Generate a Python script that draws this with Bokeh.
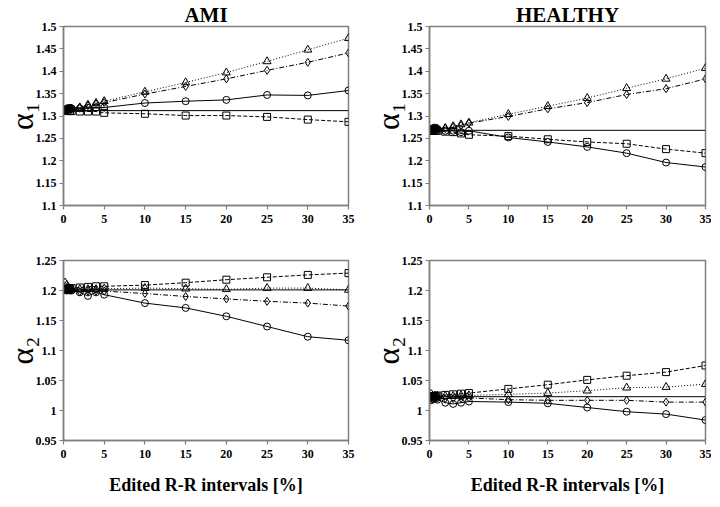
from bokeh.plotting import figure
from bokeh.layouts import column, row
from bokeh.models import Range1d, FixedTicker, CustomJSTickFormatter
from bokeh.embed import file_html
from bokeh.resources import INLINE

# ---------------- data ----------------
X = [0, 0.2, 0.4, 0.6, 0.8, 1, 2, 3, 4, 5, 10, 15, 20, 25, 30, 35]
X_TICKS = [0, 5, 10, 15, 20, 25, 30, 35]

# AMI alpha1
AMI_A1_BASE = 1.312
AMI_A1_TRI = [1.312, 1.313, 1.313, 1.314, 1.315, 1.316, 1.319, 1.325, 1.329, 1.333, 1.354, 1.375, 1.397, 1.422, 1.448, 1.474]
AMI_A1_DIA = [1.312, 1.313, 1.313, 1.314, 1.315, 1.316, 1.319, 1.323, 1.327, 1.330, 1.349, 1.366, 1.383, 1.402, 1.420, 1.441]
AMI_A1_CIR = [1.312, 1.314, 1.316, 1.318, 1.318, 1.317, 1.317, 1.318, 1.319, 1.319, 1.329, 1.333, 1.336, 1.347, 1.346, 1.357]
AMI_A1_SQ = [1.312, 1.312, 1.312, 1.311, 1.311, 1.311, 1.310, 1.310, 1.310, 1.307, 1.305, 1.301, 1.301, 1.298, 1.292, 1.287]

# HEALTHY alpha1
HEA_A1_BASE = 1.268
HEA_A1_TRI = [1.268, 1.269, 1.269, 1.270, 1.270, 1.271, 1.273, 1.277, 1.281, 1.285, 1.304, 1.322, 1.340, 1.362, 1.383, 1.407]
HEA_A1_DIA = [1.268, 1.268, 1.269, 1.269, 1.270, 1.270, 1.272, 1.275, 1.279, 1.284, 1.299, 1.316, 1.330, 1.348, 1.361, 1.383]
HEA_A1_CIR = [1.268, 1.270, 1.272, 1.274, 1.273, 1.271, 1.267, 1.267, 1.264, 1.267, 1.252, 1.242, 1.231, 1.217, 1.196, 1.186]
HEA_A1_SQ = [1.268, 1.268, 1.267, 1.267, 1.267, 1.267, 1.265, 1.264, 1.261, 1.258, 1.255, 1.248, 1.242, 1.238, 1.226, 1.217]

# AMI alpha2
AMI_A2_BASE = 1.201
AMI_A2_SQ = [1.201, 1.202, 1.202, 1.203, 1.203, 1.204, 1.205, 1.206, 1.207, 1.207, 1.209, 1.213, 1.218, 1.222, 1.226, 1.229]
AMI_A2_TRI = [1.201, 1.202, 1.203, 1.203, 1.202, 1.202, 1.202, 1.202, 1.202, 1.203, 1.204, 1.203, 1.202, 1.204, 1.204, 1.201]
AMI_A2_DIA = [1.201, 1.214, 1.210, 1.206, 1.203, 1.201, 1.198, 1.199, 1.199, 1.199, 1.195, 1.190, 1.186, 1.182, 1.179, 1.174]
AMI_A2_CIR = [1.201, 1.201, 1.200, 1.201, 1.200, 1.200, 1.197, 1.191, 1.197, 1.193, 1.179, 1.171, 1.157, 1.140, 1.123, 1.117]

# HEALTHY alpha2
HEA_A2_BASE = 1.023
HEA_A2_SQ = [1.023, 1.023, 1.024, 1.024, 1.024, 1.025, 1.026, 1.027, 1.028, 1.029, 1.036, 1.043, 1.051, 1.058, 1.064, 1.075]
HEA_A2_TRI = [1.023, 1.023, 1.023, 1.024, 1.024, 1.024, 1.024, 1.024, 1.025, 1.025, 1.027, 1.029, 1.033, 1.038, 1.039, 1.044]
HEA_A2_DIA = [1.023, 1.021, 1.020, 1.021, 1.021, 1.021, 1.020, 1.020, 1.020, 1.021, 1.018, 1.017, 1.017, 1.017, 1.014, 1.014]
HEA_A2_CIR = [1.029, 1.017, 1.019, 1.021, 1.020, 1.018, 1.013, 1.011, 1.013, 1.015, 1.014, 1.012, 1.005, 0.998, 0.994, 0.984]

A1_TICKS = [1.1, 1.15, 1.2, 1.25, 1.3, 1.35, 1.4, 1.45, 1.5]
A2_TICKS = [0.95, 1.0, 1.05, 1.1, 1.15, 1.2, 1.25]

SERIF = "Liberation Serif"
AXIS_GRAY = "#7f7f7f"

fmt = CustomJSTickFormatter(code="""
var s = tick.toFixed(2);
s = s.replace(/0+$/, '');
s = s.replace(/\\.$/, '');
return s;
""")


def make_fig(fw, fh, b_left, b_right, b_top, b_bottom, yticks, ylabel,
             base, tri, dia, cir, sq, title=None, xlabel=None):
    p = figure(frame_width=fw, frame_height=fh, output_backend="svg",
               toolbar_location=None, min_border_left=b_left,
               min_border_right=b_right, min_border_top=b_top,
               min_border_bottom=b_bottom,
               x_range=Range1d(X_TICKS[0], X_TICKS[-1]),
               y_range=Range1d(yticks[0], yticks[-1]))
    p.grid.visible = False
    p.outline_line_color = AXIS_GRAY
    p.outline_line_width = 1.5
    if title:
        p.title.text = title
        p.title.align = "center"
        p.title.text_font = SERIF
        p.title.text_font_style = "bold"
        p.title.text_font_size = "21px"
        p.title.text_color = "black"
        p.title.standoff = 0
        p.title.offset = 0

    for ax in (p.xaxis[0], p.yaxis[0]):
        ax.axis_line_color = AXIS_GRAY
        ax.axis_line_width = 1.5
        ax.major_tick_line_color = AXIS_GRAY
        ax.major_tick_line_width = 1.2
        ax.major_tick_out = 4
        ax.major_tick_in = 0
        ax.minor_tick_line_color = None
        ax.major_label_text_font = SERIF
        ax.major_label_text_font_style = "bold"
        ax.major_label_text_font_size = "12px"
        ax.major_label_text_color = "black"

    p.xaxis.ticker = FixedTicker(ticks=X_TICKS)
    p.xaxis.major_label_standoff = 5
    p.yaxis.ticker = FixedTicker(ticks=yticks)
    p.yaxis.formatter = fmt
    p.yaxis.major_label_standoff = 3

    p.yaxis.axis_label = ylabel
    p.yaxis.axis_label_text_font = SERIF
    p.yaxis.axis_label_text_font_style = "normal"
    p.yaxis.axis_label_text_font_size = "32px"
    p.yaxis.axis_label_text_color = "black"
    p.yaxis.axis_label_standoff = -7

    if xlabel:
        p.xaxis.axis_label = xlabel
        p.xaxis.axis_label_text_font = SERIF
        p.xaxis.axis_label_text_font_style = "bold"
        p.xaxis.axis_label_text_font_size = "18px"
        p.xaxis.axis_label_text_color = "black"
        p.xaxis.axis_label_standoff = 14

    # baseline
    p.line([X[0], X[-1]], [base, base], line_color="black", line_width=1)

    p.line(X, sq, line_color="black", line_width=1, line_dash="4 2")
    p.scatter(X, sq, marker="square", size=7, line_color="black",
              fill_color=None, line_width=1)
    p.line(X, tri, line_color="black", line_width=1, line_dash="1 2")
    p.scatter(X, tri, marker="triangle", size=8, line_color="black",
              fill_color=None, line_width=1)
    p.line(X, dia, line_color="black", line_width=1, line_dash="5 2 1 2")
    p.scatter(X, dia, marker="diamond", size=8, line_color="black",
              fill_color=None, line_width=1)
    p.line(X, cir, line_color="black", line_width=1)
    p.scatter(X, cir, marker="circle", size=7, line_color="black",
              fill_color=None, line_width=1)
    return p


p1 = make_fig(285, 179, 54, 11, 17, 47, A1_TICKS, "α₁",
              AMI_A1_BASE, AMI_A1_TRI, AMI_A1_DIA, AMI_A1_CIR, AMI_A1_SQ,
              title="AMI")
p2 = make_fig(276, 179, 70, 6, 17, 47, A1_TICKS, "α₁",
              HEA_A1_BASE, HEA_A1_TRI, HEA_A1_DIA, HEA_A1_CIR, HEA_A1_SQ,
              title="HEALTHY")
p3 = make_fig(285, 180, 54, 11, 8, 52, A2_TICKS, "α₂",
              AMI_A2_BASE, AMI_A2_TRI, AMI_A2_DIA, AMI_A2_CIR, AMI_A2_SQ,
              xlabel="Edited R-R intervals [%]")
p4 = make_fig(276, 180, 70, 6, 8, 52, A2_TICKS, "α₂",
              HEA_A2_BASE, HEA_A2_TRI, HEA_A2_DIA, HEA_A2_CIR, HEA_A2_SQ,
              xlabel="Edited R-R intervals [%]")

layout = column(row(p1, p2), row(p3, p4))
open("out.html", "w").write(file_html(layout, INLINE))
